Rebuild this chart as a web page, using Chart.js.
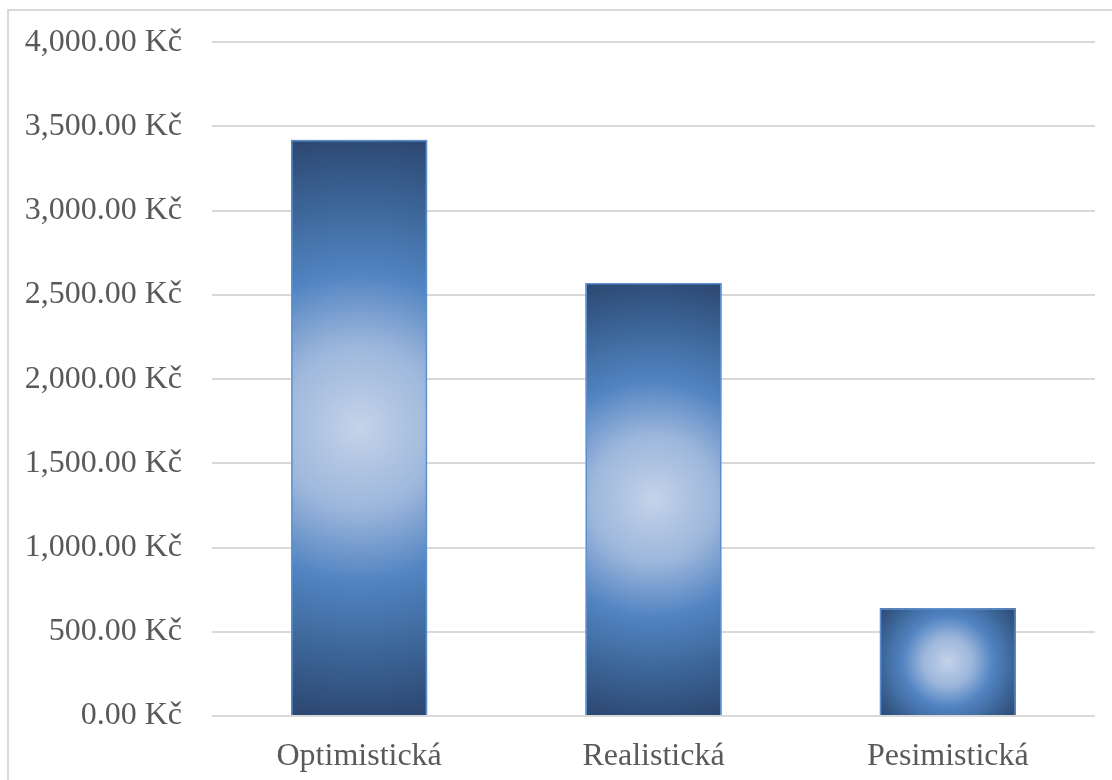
<!DOCTYPE html>
<html>
<head>
<meta charset="utf-8">
<script src="https://cdn.jsdelivr.net/npm/chart.js@4"></script>
<style>
  html, body { margin: 0; padding: 0; background: #fff; overflow: hidden; }
  #wrap { width: 1112px; height: 780px; overflow: hidden; position: relative; }
  #bar-graph { position: absolute; left: 0; top: -7px; }
</style>
</head>
<body>
<div id="wrap"><canvas id="bar-graph" width="1112" height="787"></canvas></div>
<script>
const categories = ["Optimistická", "Realistická", "Pesimistická"];
const costs = [3420, 2570, 640];
const y_max = 4000;
const y_step = 500;

function format_kc(value) {
    return Number(value).toLocaleString("en-US", { minimumFractionDigits: 2, maximumFractionDigits: 2 }) + " Kč";
}

// outer frame of the chart, like the office chart border (canvas is shifted up 7px)
const frame_plugin = {
    id: "frame",
    beforeDraw: function(chart) {
        const ctx = chart.ctx;
        ctx.save();
        ctx.strokeStyle = "#d9d9d9";
        ctx.lineWidth = 2;
        ctx.beginPath();
        ctx.moveTo(8, chart.height + 5);
        ctx.lineTo(8, 17);
        ctx.lineTo(chart.width + 5, 17);
        ctx.stroke();
        ctx.restore();
    }
};

// radial "from center" gradient fill for each bar
const gradient_plugin = {
    id: "barGradient",
    beforeDatasetsDraw: function(chart) {
        const ctx = chart.ctx;
        const meta = chart.getDatasetMeta(0);
        meta.data.forEach(function(bar) {
            const left = bar.x - bar.width / 2;
            const top = Math.min(bar.y, bar.base);
            const w = bar.width;
            const h = Math.abs(bar.base - bar.y);
            const cx = left + w / 2, cy = top + h / 2;
            const r = Math.sqrt(w * w + h * h) / 2;
            const g = ctx.createRadialGradient(cx, cy, 0, cx, cy, r);
            g.addColorStop(0, "#c4d3e9");
            g.addColorStop(0.28, "#9cb6db");
            g.addColorStop(0.52, "#5284c2");
            g.addColorStop(0.76, "#3c6698");
            g.addColorStop(1, "#2c4670");
            ctx.save();
            ctx.fillStyle = g;
            ctx.fillRect(left, top, w, h);
            ctx.restore();
        });
    }
};

const bar_graph = new Chart(document.getElementById("bar-graph"), {
    type: "bar",
    data: {
        labels: categories,
        datasets: [{
            label: "Kč",
            data: costs,
            backgroundColor: "rgba(0,0,0,0)",
            borderColor: "#5b8fd0",
            borderWidth: 1.5,
            barPercentage: 0.462,
            categoryPercentage: 1
        }]
    },
    options: {
        responsive: false,
        animation: false,
        layout: {
            padding: { left: 0, right: 17, top: 34, bottom: 0 }
        },
        plugins: {
            legend: { display: false },
            tooltip: { enabled: false }
        },
        scales: {
            x: {
                grid: { display: false, drawTicks: false },
                border: { display: false },
                ticks: {
                    color: "#595959",
                    padding: 21,
                    font: { family: "'Liberation Serif', 'Times New Roman', serif", size: 32 }
                },
                afterFit: function(scale) { scale.height = 64; }
            },
            y: {
                min: 0,
                max: y_max,
                grid: { color: "#d9d9d9", lineWidth: 2, drawTicks: false },
                border: { display: false },
                ticks: {
                    stepSize: y_step,
                    color: "#595959",
                    padding: 30,
                    font: { family: "'Liberation Serif', 'Times New Roman', serif", size: 32 },
                    callback: function(value) { return format_kc(value); }
                },
                afterFit: function(scale) { scale.width = 212; }
            }
        }
    },
    plugins: [frame_plugin, gradient_plugin]
});
</script>
</body>
</html>
